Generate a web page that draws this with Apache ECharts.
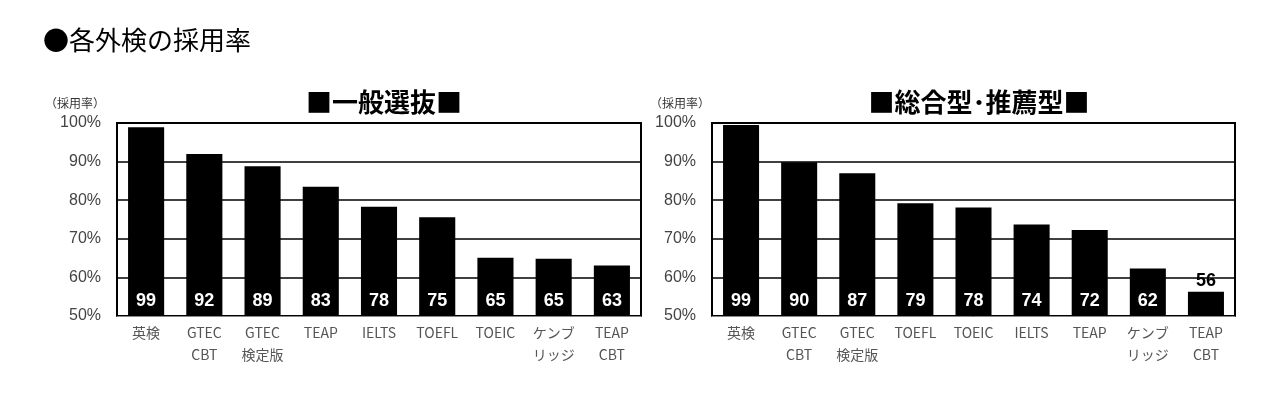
<!DOCTYPE html><html><head><meta charset="utf-8"><script src="https://cdn.jsdelivr.net/npm/echarts@6/dist/echarts.min.js"></script></head><body style="margin:0"><div id="c" style="width:1280px;height:416px"></div><script>
const catsL=['英検','GTEC\nCBT','GTEC\n検定版','TEAP','IELTS','TOEFL','TOEIC','ケンブ\nリッジ','TEAP\nCBT'];
const valsL=[98.9,92,88.8,83.5,78.3,75.6,65.1,64.8,63.1];
const labelsL=[99,92,89,83,78,75,65,65,63];
const catsR=['英検','GTEC\nCBT','GTEC\n検定版','TOEFL','TOEIC','IELTS','TEAP','ケンブ\nリッジ','TEAP\nCBT'];
const valsR=[99.5,89.8,87,79.2,78.1,73.7,72.3,62.3,56.3];
const labelsR=[99,90,87,79,78,74,72,62,56];
const font='"Noto Sans CJK JP",sans-serif';
function mk(i,cats){return {gridIndex:i,type:'category',data:cats,axisLine:{lineStyle:{color:'#888'}},axisTick:{length:52,interval:0,lineStyle:{color:'#333'}},axisLabel:{interval:0,color:'#555',fontSize:14,lineHeight:22,fontFamily:font,margin:6}}}
function my(i){return {gridIndex:i,min:50,max:100,interval:10,axisLine:{show:false},axisTick:{show:false},splitLine:{lineStyle:{color:'#000',width:1.5}},axisLabel:{formatter:'{value}%',color:'#444',fontSize:16,fontFamily:'Arial, Liberation Sans',margin:16}}}
function ser(i,v,lab){return {type:'bar',xAxisIndex:i,yAxisIndex:i,barWidth:'62%',itemStyle:{color:'#000'},data:v.map((x,k)=>({value:x,label:lab[k]<60?{position:'top',color:'#000',distance:2}:{}})),label:{show:true,position:'insideBottom',distance:6,color:'#fff',fontSize:18,fontWeight:'bold',fontFamily:'Arial, Liberation Sans',formatter:p=>lab[p.dataIndex]}}}
const ch=echarts.init(document.getElementById('c'));
ch.setOption({animation:false,backgroundColor:'#fff',
title:[{text:'●各外検の採用率',left:38,top:22,textStyle:{fontSize:26,fontWeight:'normal',color:'#000',fontFamily:font}},
{text:'■一般選抜■',left:379,top:84,textAlign:'center',textStyle:{fontSize:26,fontWeight:'bold',color:'#000',fontFamily:font}},
{text:'■総合型･推薦型■',left:974,top:84,textAlign:'center',textStyle:{fontSize:26,fontWeight:'bold',color:'#000',fontFamily:font}},
{text:'（採用率）',left:40,top:92,textStyle:{fontSize:12,fontWeight:'normal',color:'#333',fontFamily:font}},
{text:'（採用率）',left:645,top:92,textStyle:{fontSize:12,fontWeight:'normal',color:'#333',fontFamily:font}}],
grid:[{left:117,right:639,top:123,bottom:100,show:true,borderColor:'#000',borderWidth:2},{left:712,right:45,top:123,bottom:100,show:true,borderColor:'#000',borderWidth:2}],
xAxis:[mk(0,catsL),mk(1,catsR)],yAxis:[my(0),my(1)],
series:[ser(0,valsL,labelsL),ser(1,valsR,labelsR)]});
</script></body></html>
